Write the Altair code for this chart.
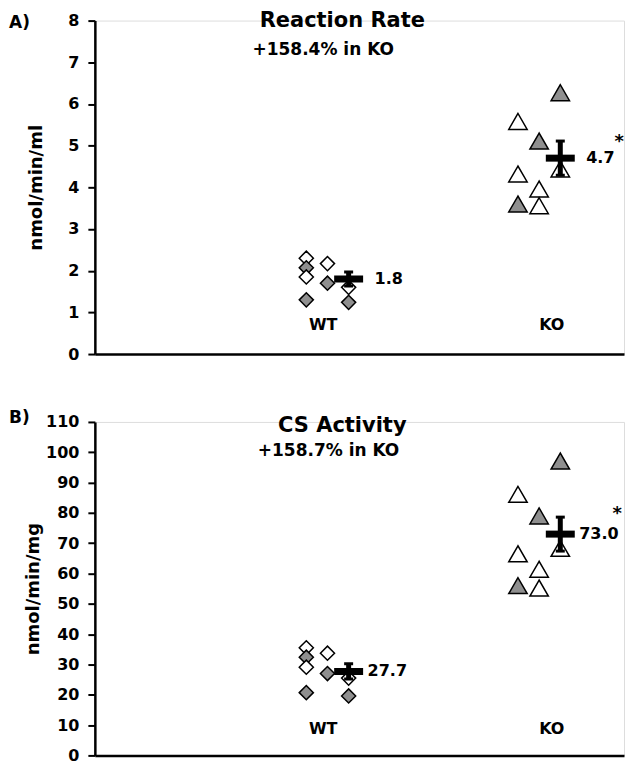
import altair as alt
import pandas as pd

FONT = "DejaVu Sans"
GREY = "#8f8f8f"

# ---------------- data ----------------
categories = ["WT", "KO"]
point_group = ["WT"] * 8 + ["KO"] * 8
point_column = [0, 0, 0, 0, 1, 1, 2, 2,
                0, 0, 0, 1, 1, 1, 2, 2]
point_fill = ["open", "filled", "open", "filled", "open", "filled", "open", "filled",
              "open", "open", "filled", "filled", "open", "open", "filled", "open"]

# Panel A: Reaction Rate (nmol/min/ml)
rate_values = [2.30, 2.07, 1.85, 1.30, 2.17, 1.70, 1.60, 1.24,
               5.58, 4.32, 3.60, 5.11, 3.96, 3.56, 6.27, 4.44]
rate_means = [1.8, 4.7]
rate_sem = [0.17, 0.41]
rate_sig = ["", "*"]

# Panel B: CS Activity (nmol/min/mg)
cs_values = [35.5, 32.4, 29.1, 20.7, 33.7, 27.0, 25.5, 19.6,
             86.1, 66.5, 56.0, 79.0, 61.4, 55.2, 97.1, 68.3]
cs_means = [27.7, 73.0]
cs_sem = [2.5, 5.6]
cs_sig = ["", "*"]

# ---------------- layout / style ----------------
W, H = 530, 334
X_MIN, X_MAX = -0.099, 2.401
COL_STEP = 0.1


def X(field):
    return alt.X(f"{field}:Q", scale=alt.Scale(domain=[X_MIN, X_MAX], nice=False, zero=False),
                 axis=alt.Axis(labels=False, ticks=False, title=None, grid=False,
                               domainColor="black", domainWidth=2.5))


def make_panel(values, means, sems, sig, cfg):
    top = cfg["top"]

    def Y(field):
        return alt.Y(f"{field}:Q", scale=alt.Scale(domain=[0, top], nice=False, zero=True),
                     axis=alt.Axis(values=list(range(0, top + 1, cfg["step"])), title=cfg["ytitle"],
                                   grid=False, tickSize=7, tickWidth=2, tickColor="black",
                                   domainColor="black", domainWidth=2.5,
                                   labelFont=FONT, labelFontSize=16, labelFontWeight="bold",
                                   labelColor="black", labelPadding=9,
                                   titleFont=FONT, titleFontSize=18, titleFontWeight="bold",
                                   titleColor="black", titleAngle=270, titleBaseline="middle",
                                   titleX=cfg["title_x"], titleY=H / 2))

    pts = pd.DataFrame({"group": point_group, "col": point_column,
                        "fill": point_fill, "value": values})
    pts["x"] = [categories.index(g) + 1 + (c - 1) * COL_STEP
                for g, c in zip(point_group, point_column)]

    points = alt.Chart(pts).mark_point(filled=True, stroke="black", strokeWidth=1.5, opacity=1).encode(
        x=X("x"), y=Y("value"),
        shape=alt.Shape("group:N", scale=alt.Scale(domain=categories, range=["diamond", "triangle-up"]),
                        legend=None),
        size=alt.Size("group:N", scale=alt.Scale(domain=categories, range=[200, 340]), legend=None),
        fill=alt.Fill("fill:N", scale=alt.Scale(domain=["open", "filled"], range=["white", GREY]),
                      legend=None),
    )

    mdf = pd.DataFrame({"group": categories, "mean": means, "sem": sems, "sig": sig})
    mdf["x"] = [i + 1 + COL_STEP for i in range(len(categories))]
    mdf["lo"] = mdf["mean"] - mdf["sem"]
    mdf["hi"] = mdf["mean"] + mdf["sem"]
    mdf["label"] = [f"{m:.1f}" for m in means]

    mbase = alt.Chart(mdf)
    vbar = mbase.mark_rule(color="black", strokeWidth=5).encode(x=X("x"), y=Y("lo"), y2="hi")
    cap_lo = mbase.mark_tick(orient="horizontal", size=9, thickness=3, color="black", opacity=1).encode(
        x=X("x"), y=Y("lo"))
    cap_hi = mbase.mark_tick(orient="horizontal", size=9, thickness=3, color="black", opacity=1).encode(
        x=X("x"), y=Y("hi"))
    hbar = mbase.mark_tick(orient="horizontal", size=29, thickness=7, color="black", opacity=1).encode(
        x=X("x"), y=Y("mean"))
    vlabel = mbase.mark_text(align="left", baseline="middle", dx=cfg["label_dx"], font=FONT,
                             fontSize=16, fontWeight="bold", color="black").encode(
        x=X("x"), y=Y("mean"), text="label:N")
    star = mbase.transform_filter("datum.sig != ''").mark_text(
        align="center", baseline="middle", dx=cfg["star_dx"], dy=cfg["star_dy"], font=FONT,
        fontSize=18, fontWeight="bold", color="black").encode(x=X("x"), y=Y("mean"), text="sig:N")

    cdf = pd.DataFrame({"t": categories})
    cdf["x"] = [i + 1 + (0.06 if c == "KO" else -0.02) for i, c in enumerate(categories)]
    cdf["y"] = cfg["cat_y"]
    cat = alt.Chart(cdf).mark_text(font=FONT, fontSize=16, fontWeight="bold", color="black",
                                   baseline="middle").encode(x=X("x"), y=Y("y"), text="t:N")

    tdf = pd.DataFrame({"t": [cfg["title"]], "x": [cfg["title_xy"][0]], "y": [cfg["title_xy"][1]]})
    ttl = alt.Chart(tdf).mark_text(font=FONT, fontSize=21, fontWeight="bold", color="black",
                                   baseline="middle").encode(x=X("x"), y=Y("y"), text="t:N")
    sdf = pd.DataFrame({"t": [cfg["sub"]], "x": [cfg["sub_xy"][0]], "y": [cfg["sub_xy"][1]]})
    sub = alt.Chart(sdf).mark_text(font=FONT, fontSize=17, fontWeight="bold", color="black",
                                   baseline="middle").encode(x=X("x"), y=Y("y"), text="t:N")
    ldf = pd.DataFrame({"t": [cfg["letter"]], "y": [cfg["letter_y"]]})
    let = alt.Chart(ldf).mark_text(font=FONT, fontSize=17, fontWeight="bold", color="black",
                                   align="left", baseline="middle").encode(
        x=alt.value(-86), y=Y("y"), text="t:N")

    return alt.layer(points, vbar, cap_lo, cap_hi, hbar, vlabel, star, cat, ttl, sub, let).properties(
        width=W, height=H)


panel_a = make_panel(rate_values, rate_means, rate_sem, rate_sig, dict(
    top=8, step=1, ytitle="nmol/min/ml", title="Reaction Rate", title_xy=(1.07, 8.0),
    sub="+158.4% in KO", sub_xy=(0.98, 7.29), cat_y=0.69, letter="A)", letter_y=7.95,
    label_dx=26, star_dx=59, star_dy=-16, title_x=-58))

panel_b = make_panel(cs_values, cs_means, cs_sem, cs_sig, dict(
    top=110, step=10, ytitle="nmol/min/mg", title="CS Activity", title_xy=(1.07, 108.7),
    sub="+158.7% in KO", sub_xy=(1.005, 100.5), cat_y=8.8, letter="B)", letter_y=111.3,
    label_dx=19, star_dx=57, star_dy=-20, title_x=-61))

chart = alt.vconcat(panel_a, panel_b, spacing=68, bounds="flush").configure_view(
    stroke=None).configure(background="white", padding=0)

chart.save("out.html", embed_options={"renderer": "svg", "actions": False})
